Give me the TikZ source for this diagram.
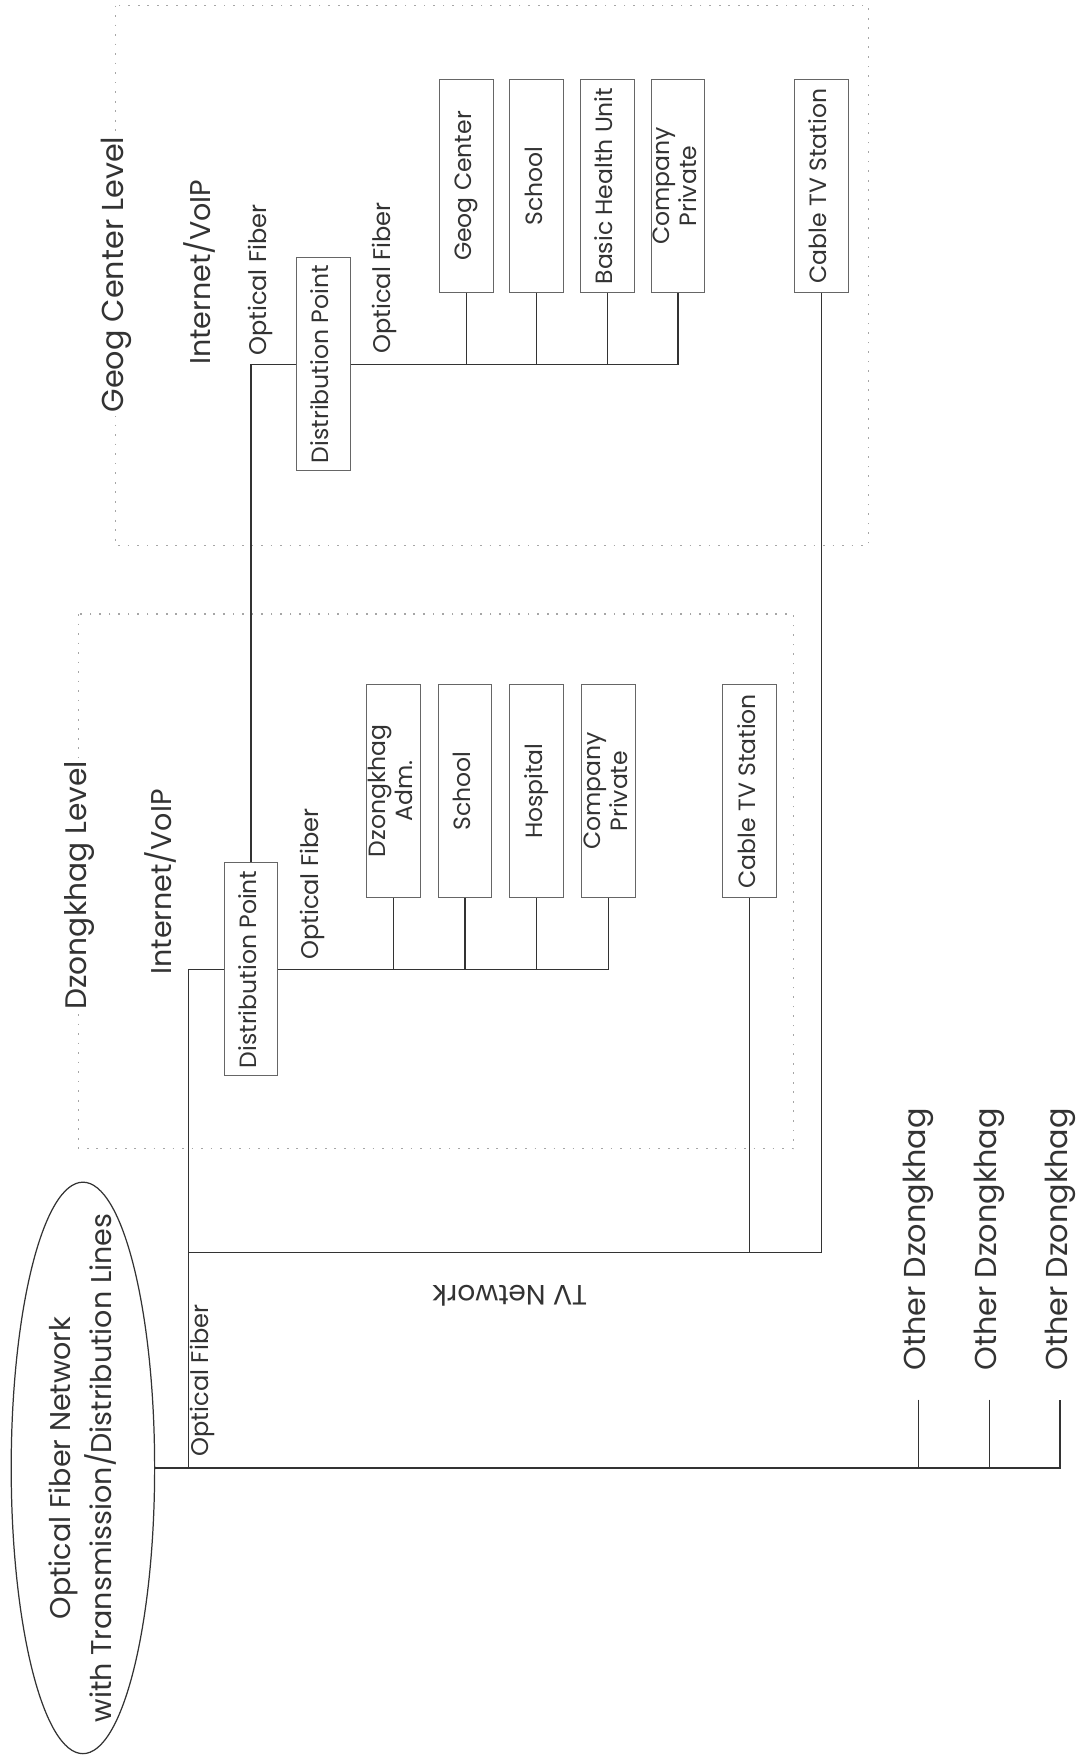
\documentclass[tikz,border=0pt]{standalone}
\usepackage{fontspec}
\setmainfont{Poppins}
\usepackage{graphicx}
\usetikzlibrary{shapes.geometric}
\newcommand{\vt}[1]{\rotatebox{90}{\begin{tabular}{@{}c@{}}#1\end{tabular}}}
\tikzset{
  wire/.style={draw=black!80, line width=1.1pt},
  unitbox/.style={draw=black!60, line width=0.8pt, minimum width=48pt, minimum height=190pt, inner sep=0pt, text=black!80, font=\fontsize{21}{24}\selectfont},
  levframe/.style={draw=black!35, line width=1pt, dash pattern=on 1.5pt off 7pt},
  lbl/.style={rotate=90, inner sep=0pt, text=black!80, font=\fontsize{21.5}{24}\selectfont},
  biglbl/.style={rotate=90, inner sep=0pt, text=black!80, font=\fontsize{26.5}{30}\selectfont},
  levlbl/.style={biglbl, fill=white, inner sep=3pt},
}
\begin{document}
\begin{tikzpicture}[x=1pt,y=1pt]
\useasboundingbox (0,0) rectangle (970,-1568);
% level frames
\draw[levframe] (103,-5) rectangle (775,-487);
\draw[levframe] (70,-548) rectangle (708,-1025);
% optical fiber network
\node[draw=black!80, line width=1.1pt, ellipse, minimum width=128pt, minimum height=510pt, inner sep=0pt] (net) at (74,-1310) {};
\node[inner sep=0pt, text=black!80, font=\fontsize{25.5}{37}\selectfont] (nettext) at (net.center) {\vt{Optical Fiber Network\\with Transmission/Distribution Lines}};
% dzongkhag level
\node[levlbl] (dzlev) at (71,-790) {Dzongkhag Level};
\node[biglbl, font=\fontsize{25.5}{30}\selectfont] (dzinet) at (143,-787) {Internet/VoIP};
\node[unitbox] (dpd) at (224,-865) {\vt{Distribution Point}};
\node[lbl] (dzof) at (279,-789) {Optical Fiber};
\node[unitbox] (dadm) at (351,-706) {\vt{Dzongkhag\\Adm.}};
\node[unitbox] (dsch) at (415,-706) {\vt{School}};
\node[unitbox] (dhos) at (479,-706) {\vt{Hospital}};
\node[unitbox] (dcp) at (543,-706) {\vt{Company\\Private}};
\node[unitbox] (dcatv) at (669,-706) {\vt{Cable TV Station}};
% geog level
\node[levlbl, font=\fontsize{27}{30}\selectfont] (gclev) at (104,-245) {Geog Center Level};
\node[biglbl, font=\fontsize{25.5}{30}\selectfont] (ginet) at (178,-243) {Internet/VoIP};
\node[lbl] (gof1) at (232,-250) {Optical Fiber};
\node[unitbox] (gdp) at (288.5,-325) {\vt{Distribution Point}};
\node[lbl] (gof2) at (343,-248) {Optical Fiber};
\node[unitbox] (ggc) at (416,-166) {\vt{Geog Center}};
\node[unitbox] (gsch) at (479,-166) {\vt{School}};
\node[unitbox] (gbhu) at (542,-166) {\vt{Basic Health Unit}};
\node[unitbox] (gcp) at (605,-166) {\vt{Company\\Private}};
\node[unitbox] (gcatv) at (733,-166) {\vt{Cable TV Station}};
% trunk labels
\node[lbl] (tof) at (181,-1232) {Optical Fiber};
\node[rotate=180, inner sep=0pt, text=black!80, font=\fontsize{25}{28}\selectfont] (tvn) at (455,-1156) {TV Network};
% other dzongkhag
\node[biglbl, font=\fontsize{27}{30}\selectfont] (od1) at (820,-1106) {Other Dzongkhag};
\node[biglbl, font=\fontsize{27}{30}\selectfont] (od2) at (883,-1106) {Other Dzongkhag};
\node[biglbl, font=\fontsize{27}{30}\selectfont] (od3) at (946,-1106) {Other Dzongkhag};
\coordinate (k1) at (820,-1249);
\coordinate (k2) at (883,-1249);
\coordinate (k3) at (946,-1249);
\coordinate (j1) at (168,-1310);
\coordinate (j2) at (168,-1118);
% main line and ticks
\draw[wire] (net.east) -- (k3 |- net.east) -- (k3);
\draw[wire] (k1) -- (k1 |- net.east);
\draw[wire] (k2) -- (k2 |- net.east);
% internet trunk
\draw[wire] (j1) |- (dpd.west);
% TV network
\draw[wire] (j2) -| (gcatv.south);
\draw[wire] (dcatv.south) -- (dcatv.south |- j2);
% dzongkhag bus
\draw[wire] (dpd.east) -- (dpd.east -| dcp.south) -- (dcp.south);
\draw[wire] (dadm.south) -- (dadm.south |- dpd.east);
\draw[wire] (dsch.south) -- (dsch.south |- dpd.east);
\draw[wire] (dhos.south) -- (dhos.south |- dpd.east);
% link to geog
\draw[wire] (dpd.north) |- (gdp.west);
% geog bus
\draw[wire] (gdp.east) -- (gdp.east -| gcp.south) -- (gcp.south);
\draw[wire] (ggc.south) -- (ggc.south |- gdp.east);
\draw[wire] (gsch.south) -- (gsch.south |- gdp.east);
\draw[wire] (gbhu.south) -- (gbhu.south |- gdp.east);
\end{tikzpicture}
\end{document}
